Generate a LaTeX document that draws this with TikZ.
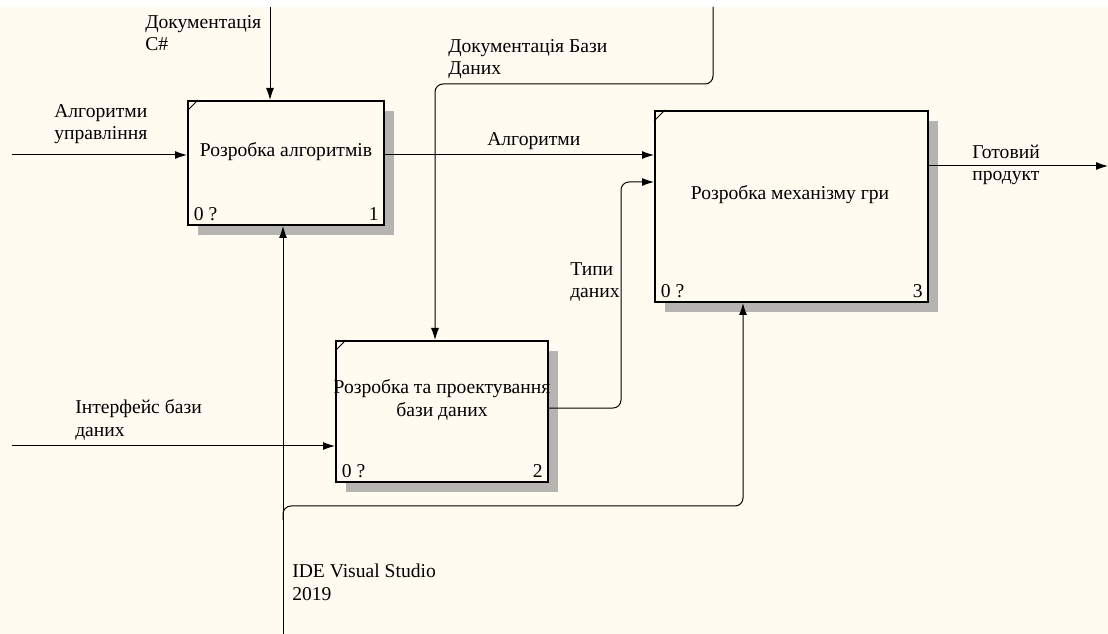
\documentclass[tikz,border=0pt]{standalone}
\usepackage{fontspec}
\setmainfont{Liberation Serif}
\usetikzlibrary{arrows.meta, shadows}
\definecolor{bgcream}{RGB}{255,251,240}
\definecolor{shadowgray}{RGB}{182,180,176}
\tikzset{
	fnbox/.style={rectangle, draw, line width=1.5pt, fill=bgcream, inner sep=0pt,
		drop shadow={shadow xshift=7.5pt, shadow yshift=-7.5pt, fill=shadowgray, opacity=1}},
	flow/.style={line width=0.75pt, rounded corners=6pt, -{Latex[length=9pt, width=6pt]}},
	lbl/.style={anchor=west, align=left, inner sep=0pt},
}
\begin{document}
\begin{tikzpicture}[x=0.75pt, y=-0.75pt, font=\fontsize{14.7}{17}\selectfont]
			\useasboundingbox (0, 0) rectangle (1108, 634);
			\fill[white] (0, 0) rectangle (1108, 634);
			\fill[bgcream] (0, 7) rectangle (1108, 634);

			\node (A1)[fnbox, minimum width=147pt, minimum height=93pt] at (286, 163) {};
			\node (A2)[fnbox, minimum width=159pt, minimum height=105.75pt] at (442, 411.5) {};
			\node (A3)[fnbox, minimum width=204.75pt, minimum height=143.25pt] at (791.5, 206.5) {};

			\node (A1t) at (286, 152) {Розробка алгоритмів};
			\node (A2t)[align=center] at (442, 400) {Розробка та проектування\\бази даних};
			\node (A3t) at (790, 195) {Розробка механізму гри};

			\draw[line width=0.75pt] ([yshift=-8.25pt]A1.north west) -- ([xshift=8.25pt]A1.north west);
			\draw[line width=0.75pt] ([yshift=-8.25pt]A2.north west) -- ([xshift=8.25pt]A2.north west);
			\draw[line width=0.75pt] ([yshift=-8.25pt]A3.north west) -- ([xshift=8.25pt]A3.north west);

			\node (A1z)[anchor=south west, inner sep=0pt] at ([xshift=5pt, yshift=4pt]A1.south west) {0 ?};
			\node (A1n)[anchor=south east, inner sep=0pt] at ([xshift=-4.5pt, yshift=4pt]A1.south east) {1};
			\node (A2z)[anchor=south west, inner sep=0pt] at ([xshift=5pt, yshift=4pt]A2.south west) {0 ?};
			\node (A2n)[anchor=south east, inner sep=0pt] at ([xshift=-4.5pt, yshift=4pt]A2.south east) {2};
			\node (A3z)[anchor=south west, inner sep=0pt] at ([xshift=5pt, yshift=4pt]A3.south west) {0 ?};
			\node (A3n)[anchor=south east, inner sep=0pt] at ([xshift=-4.5pt, yshift=4pt]A3.south east) {3};

			\coordinate (docin) at (270, 7);
			\coordinate (ctlin) at (12, 155);
			\coordinate (dbdocin) at (713, 7);
			\coordinate (dbdocturn) at (435, 84);
			\coordinate (typeturn) at (621, 182);
			\coordinate (ifin) at (12, 446);
			\coordinate (mechin) at (283, 634);
			\coordinate (mechsplit) at (283, 520);
			\coordinate (mechturn) at (743, 506);
			\coordinate (outend) at (1108, 166);

			\draw[flow] (docin) -- (docin |- A1.north);
			\draw[flow] (ctlin) -- (ctlin -| A1.west);
			\draw[flow] (ctlin -| A1.east) -- (ctlin -| A3.west);
			\draw[flow] (dbdocin) |- (dbdocturn) -- (dbdocturn |- A2.north);
			\draw[flow] ([yshift=2.6pt]A2.east) -| (typeturn) -- (typeturn -| A3.west);
			\draw[flow] (ifin) -- (ifin -| A2.west);
			\draw[flow] (mechin) -- (mechin |- A1.south);
			\draw[flow] (mechsplit) |- (mechturn) -- (mechturn |- A3.south);
			\draw[flow] (outend -| A3.east) -- (outend);

			\node (docl)[lbl] at (145, 33) {Документація\\C\#};
			\node (ctll)[lbl] at (54, 124) {Алгоритми\\управління};
			\node (algl)[lbl] at (487, 141) {Алгоритми};
			\node (dbdocl)[lbl] at (448, 59) {Документація Бази\\Даних};
			\node (typel)[lbl] at (570, 282) {Типи\\даних};
			\node (ifl)[lbl] at (75, 420) {Інтерфейс бази\\даних};
			\node (mechl)[lbl] at (292, 582) {IDE Visual Studio\\2019};
			\node (outl)[lbl] at (972, 165) {Готовий\\продукт};
		\end{tikzpicture}
\end{document}
